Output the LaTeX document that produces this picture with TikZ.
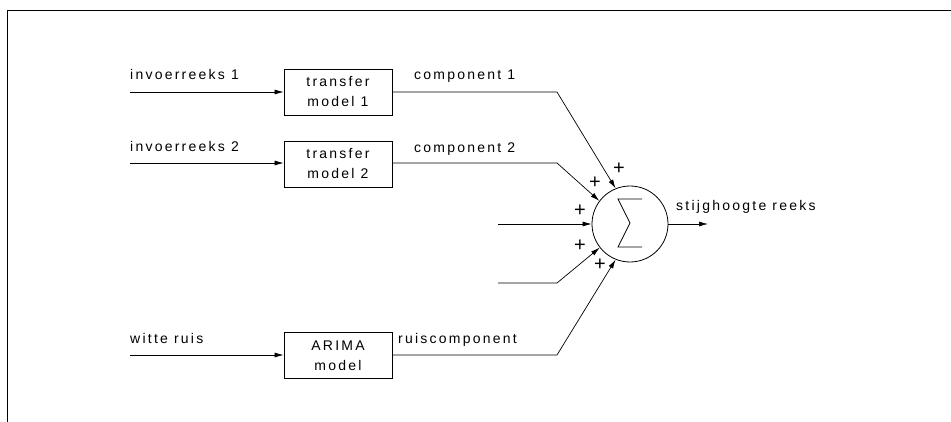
\documentclass[tikz,border=0pt]{standalone}
\usepackage{fontspec}
\setmainfont{Liberation Sans}[LetterSpace=16]
\usetikzlibrary{arrows.meta}
\begin{document}
\begin{tikzpicture}[x=1pt,y=-1pt,
  lbl/.style={anchor=base west,inner sep=0pt,font=\fontsize{14}{20}\selectfont},
  blk/.style={draw,line width=0.8pt,minimum width=108pt,minimum height=46pt,inner sep=0pt,align=center,font=\fontsize{14}{20}\selectfont},
  plus/.style={inner sep=0pt,font=\fontsize{20}{20}\selectfont},
  conn/.style={line width=0.7pt,-{Latex[length=9pt,width=5pt]}},
  line/.style={line width=0.7pt}]
\useasboundingbox (0,0) rectangle (951,422);
\draw[line width=1pt] (951,11) -- (7,11) -- (7,422);
% blocks
\node[blk] (tm1) at (338,92) {transfer\\model 1};
\node[blk] (tm2) at (338,164) {transfer\\model 2};
\node[blk] (arima) at (338,355.5) {ARIMA\\model};
\node[draw,circle,line width=0.8pt,minimum size=76pt,inner sep=0pt] (sum) at (630,224) {};
\draw[line width=0.8pt] (642,199) -- (618,199) -- (630,223) -- (618,247) -- (642,247);
% inputs
\coordinate (in1) at (130,92);
\coordinate (in2) at (130,163);
\coordinate (in3) at (130,355);
\draw[conn] (in1) -- (tm1.west |- in1);
\draw[conn] (in2) -- (tm2.west |- in2);
\draw[conn] (in3) -- (arima.west |- in3);
% outputs to sum
\coordinate (k1) at (557,92);
\coordinate (k2) at (557,163);
\coordinate (m0) at (498,224);
\coordinate (l0) at (498,283);
\coordinate (l1) at (557,283);
\coordinate (k3) at (557,355);
\draw[conn] (tm1.east |- k1) -- (k1) -- (sum.112);
\draw[conn] (tm2.east |- k2) -- (k2) -- (sum.143);
\draw[conn] (m0) -- (sum.west);
\draw[conn] (l0) -- (l1) -- (sum.218);
\draw[conn] (arima.east |- k3) -- (k3) -- (sum.248);
\coordinate (out) at (708,224);
\draw[conn] (sum.east) -- (out);
% labels
\node[lbl] (t1) at (130,80) {invoerreeks 1};
\node[lbl] (t2) at (130,152) {invoerreeks 2};
\node[lbl] (t3) at (130,343) {witte ruis};
\node[lbl] (c1) at (414,80) {component 1};
\node[lbl] (c2) at (414,153) {component 2};
\node[lbl] (c3) at (398,343) {ruiscomponent};
\node[lbl] (res) at (676,211) {stijghoogte reeks};
% plus signs
\node[plus] (p1) at (619,169) {+};
\node[plus] (p2) at (595,183) {+};
\node[plus] (p3) at (580,211) {+};
\node[plus] (p4) at (580,246) {+};
\node[plus] (p5) at (600,265) {+};
\end{tikzpicture}
\end{document}
